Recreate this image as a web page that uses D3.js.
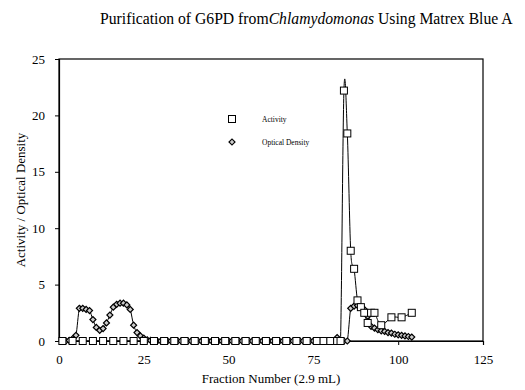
<!DOCTYPE html>
<html><head><meta charset="utf-8">
<script src="https://cdn.jsdelivr.net/npm/d3@7"></script>
<style>body{margin:0;background:#fff}svg{display:block}svg text{font-family:"Liberation Serif","DejaVu Serif","Times New Roman",Times,serif !important;fill:#000}</style>
</head><body><svg id="c" width="525" height="390"></svg>
<script>
const xTicks = [0, 25, 50, 75, 100, 125];
const yTicks = [0, 5, 10, 15, 20, 25];
const activityFractions = [1,4,7,10,13,16,19,22,25,28,31,34,37,40,43,46,49,52,55,58,61,64,67,70,73,76,78,80,82,83,84,85,86,87,88,89,90,91,92,93,95,98,101,104];
const activityValues = [0,0,0,0,0,0,0,0,0,0,0,0,0,0,0,0,0,0,0,0,0,0,0,0,0,0,0,0,0,0,22.2,18.4,8.0,6.4,3.6,3.0,2.5,1.6,2.5,2.5,1.4,2.1,2.1,2.5];
const odFractions = [1,2,3,4,5,6,7,8,9,10,11,12,13,14,15,16,17,18,19,20,21,22,23,24,25,26,27,28,29,30,31,32,33,34,35,36,37,38,39,40,41,42,43,44,45,46,47,48,49,50,51,52,53,54,55,56,57,58,59,60,61,62,63,64,65,66,67,68,69,70,71,72,73,74,75,76,77,78,79,80,81,82,83,84,85,86,87,88,89,90,91,92,93,94,95,96,97,98,99,100,101,102,103,104];
const odValues = [0,0,0.05,0.2,0.5,2.9,2.9,2.8,2.7,1.9,1.2,0.95,1.1,1.6,2.3,3.0,3.25,3.35,3.35,3.2,2.8,1.4,0.75,0.45,0.25,0.1,0.05,
 0,0,0,0,0,0,0,0,0,0,0,0,0,0,0,0,0,0,0,0,0,0,0,0,0,0,0,0,0,0,0,0,0,0,0,0,0,0,0,0,0,0,0,0,0,0,0,0,0,0,0,0,0,0,
 0.3,0,0,0,2.9,3.1,3.15,3.0,2.8,2.2,1.3,1.15,1.0,0.9,0.85,0.75,0.7,0.6,0.55,0.5,0.45,0.4,0.35,0.3,0.25];

const SERIF = '"Liberation Serif","DejaVu Serif","Times New Roman",Times,serif';
const svg = d3.select("#c");
const x = d3.scaleLinear().domain([0,125]).range([59,483]);
const y = d3.scaleLinear().domain([0,25]).range([341,59]);

// title
const t = svg.append("text").attr("x",100).attr("y",24).style("font-size","15.7px").style("font-family",SERIF);
t.append("tspan").text("Purification of G6PD from");
t.append("tspan").style("font-style","italic").text("Chlamydomonas");
t.append("tspan").text(" Using Matrex Blue A");

// frame
svg.append("rect").attr("x",x(0)).attr("y",y(25)).attr("width",x(125)-x(0)).attr("height",y(0)-y(25))
  .attr("fill","none").attr("stroke","#000").attr("stroke-width",1.2);

const xa = svg.append("g").attr("transform",`translate(0,${y(0)})`)
  .call(d3.axisBottom(x).tickValues(xTicks).tickSize(4).tickPadding(10));
const ya = svg.append("g").attr("transform",`translate(${x(0)},0)`)
  .call(d3.axisLeft(y).tickValues(yTicks).tickSize(4).tickPadding(10));
[xa,ya].forEach(g=>{g.attr("font-family",null).attr("font-size",null);
  g.select(".domain").attr("stroke","#000").attr("stroke-width",1.2);
  g.selectAll("line").attr("stroke","#000");
  g.selectAll("text").style("font-size","13px").style("font-family",SERIF).attr("fill","#000");});

svg.append("text").attr("x",(x(0)+x(125))/2).attr("y",383).attr("text-anchor","middle").style("font-size","13px").style("font-family",SERIF)
  .text("Fraction Number (2.9 mL)");
svg.append("text").attr("transform",`translate(25,${(y(0)+y(25))/2}) rotate(-90)`).attr("text-anchor","middle").style("font-size","13px").style("font-family",SERIF)
  .text("Activity / Optical Density");

// clip
svg.append("clipPath").attr("id","pc").append("rect").attr("x",x(0)).attr("y",y(25)).attr("width",x(125)-x(0)).attr("height",y(0)-y(25));

const line = d3.line().curve(d3.curveCardinal.tension(0)).x(d=>x(d[0])).y(d=>y(d[1]));
const act = activityFractions.map((f,i)=>[f,activityValues[i]]);
const od = odFractions.map((f,i)=>[f,odValues[i]]);
const lg = svg.append("g").attr("clip-path","url(#pc)");
lg.append("path").attr("d",line(od)).attr("fill","none").attr("stroke","#000").attr("stroke-width",1);
lg.append("path").attr("d",line(act)).attr("fill","none").attr("stroke","#000").attr("stroke-width",1);

const diamond = d3.symbol().type(d3.symbolSquare).size(18);
svg.append("g").selectAll("path").data(od).join("path")
  .attr("d",diamond).attr("transform",d=>`translate(${x(d[0])},${y(d[1])}) rotate(45)`)
  .attr("fill","#ccc").attr("stroke","#000").attr("stroke-width",1.2);
svg.append("g").selectAll("rect").data(act).join("rect")
  .attr("x",d=>x(d[0])-3.5).attr("y",d=>y(d[1])-3.5).attr("width",7).attr("height",7)
  .attr("fill","#fff").attr("stroke","#000").attr("stroke-width",1);

// legend
svg.append("rect").attr("x",228.5).attr("y",115.5).attr("width",7).attr("height",7).attr("fill","#fff").attr("stroke","#000");
svg.append("path").attr("d",diamond).attr("transform","translate(232,142) rotate(45)").attr("fill","#ccc").attr("stroke","#000").attr("stroke-width",1.2);
svg.append("text").attr("x",262).attr("y",122).style("font-size","7.5px").style("font-family",SERIF).text("Activity");
svg.append("text").attr("x",262).attr("y",145).style("font-size","7.5px").style("font-family",SERIF).text("Optical Density");
</script></body></html>
